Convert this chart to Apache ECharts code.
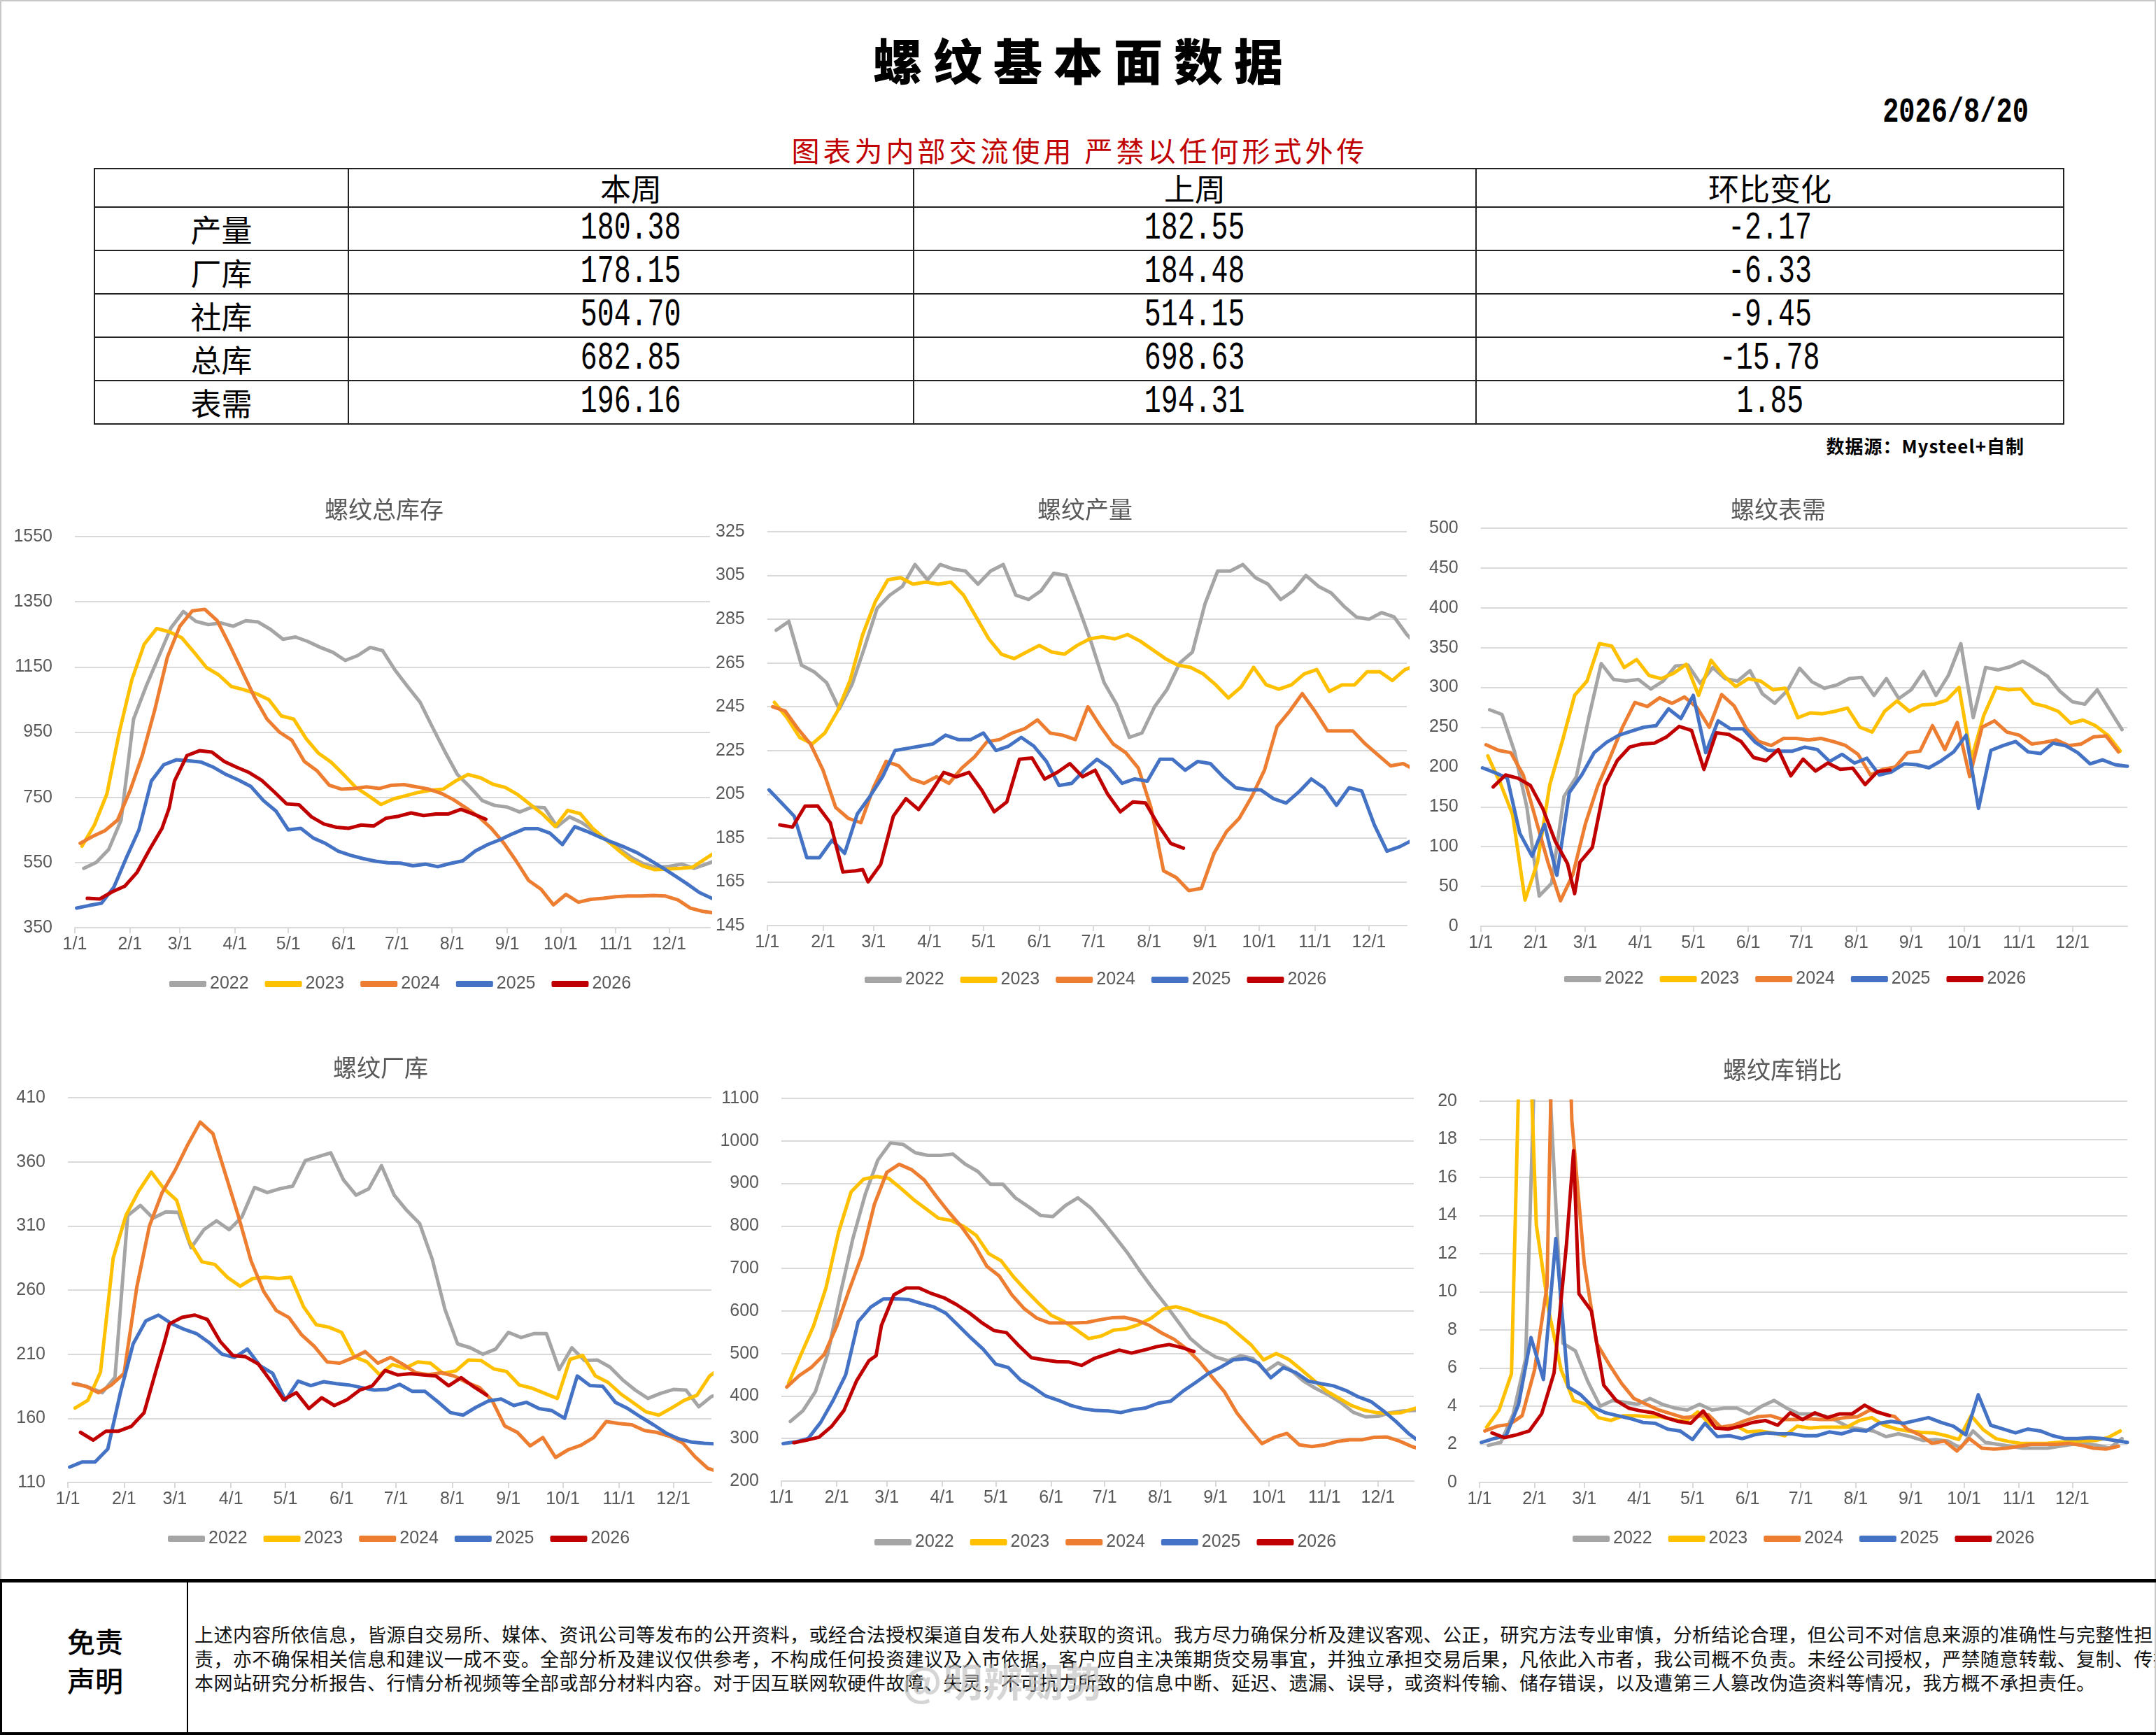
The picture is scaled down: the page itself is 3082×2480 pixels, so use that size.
<!DOCTYPE html>
<html>
<head>
<meta charset="utf-8">
<script src="https://cdn.jsdelivr.net/npm/echarts@6/dist/echarts.min.js"></script>
<style>
    body { margin: 0; background: #fff; }
    #page { position: relative; width: 3082px; height: 2480px; overflow: hidden; background: #fff;
            font-family: "Noto Sans CJK SC", sans-serif; }
    .frame { position: absolute; left: 0; top: 0; width: 3082px; height: 2480px;
             border: 2px solid #c8c8c8; box-sizing: border-box; }
    .title { position: absolute; left: 0; top: 38px; width: 3082px; text-align: center;
             font-size: 70px; font-weight: 900; line-height: 94px; letter-spacing: 16px; padding-left: 16px; box-sizing: border-box; }
    .date { position: absolute; right: 182px; top: 136px; font-family: "Liberation Mono", monospace;
            font-size: 42px; line-height: 50px; color: #000; font-weight: 700;
            transform: scale(0.92, 1.2); transform-origin: right center; }
    .warn { position: absolute; left: 0; top: 189px; width: 3082px; text-align: center;
            font-size: 40px; line-height: 50px; color: #C00000; letter-spacing: 5px; padding-left: 5px; box-sizing: border-box; }
    table.tb { position: absolute; left: 134px; top: 240px; width: 2815px; border-collapse: collapse;
               table-layout: fixed; }
    table.tb td { border: 2px solid #222; text-align: center; padding: 0; color: #000; }
    table.tb td.cn { font-size: 44px; }
    table.tb td.num { font-family: "Liberation Mono", monospace; font-size: 42px; }
    table.tb td.num span { display: inline-block; transform: scale(0.95, 1.3); }
    table.tb tr.hd td { height: 53px; line-height: 53px; }
    table.tb tr.rw td { height: 60px; line-height: 60px; }
    table.tb td + td { border-left: 1px solid #888; }
    .src { position: absolute; right: 188px; top: 620px; font-size: 26px; font-weight: 700;
           line-height: 34px; letter-spacing: 1px; }
    .chart { position: absolute; }
    .disc { position: absolute; left: 0; top: 2257px; width: 3082px; height: 223px;
            border-top: 5px solid #000; border-bottom: 4px solid #000; border-left: 3px solid #000;
            box-sizing: border-box; }
    .disc .lab { position: absolute; left: 0; top: 0; width: 266px; height: 100%;
                 border-right: 2px solid #000; box-sizing: border-box; }
    .disc .lab div { position: absolute; left: 0; width: 266px; text-align: center; font-size: 40px;
                     font-weight: 500; line-height: 50px; }
    .disc .txt { position: absolute; left: 275px; top: 57px; width: 2802px; overflow: hidden;
                 white-space: nowrap; font-size: 27px; line-height: 34.5px; letter-spacing: 0.45px; color: #111; }
    .wm { position: absolute; left: 1290px; top: 2360px; font-size: 56px; color: rgba(185,185,185,0.6);
          font-weight: 700; letter-spacing: 2px; }
</style>
</head>
<body>
<div id="page">
    <div class="frame"></div>
    <div class="title">螺纹基本面数据</div>
    <div class="date">2026/8/20</div>
    <div class="warn">图表为内部交流使用 严禁以任何形式外传</div>
    <table class="tb" id="tb"></table>
    <div class="src">数据源：Mysteel+自制</div>

    <div id="c1" class="chart" style="left:0;top:690px;width:1020px;height:740px;"></div>
    <div id="c2" class="chart" style="left:1020px;top:690px;width:1020px;height:740px;"></div>
    <div id="c3" class="chart" style="left:2040px;top:690px;width:1042px;height:740px;"></div>
    <div id="c4" class="chart" style="left:0;top:1490px;width:1020px;height:740px;"></div>
    <div id="c5" class="chart" style="left:1020px;top:1490px;width:1020px;height:740px;"></div>
    <div id="c6" class="chart" style="left:2040px;top:1490px;width:1042px;height:740px;"></div>

    <div class="disc">
        <div class="lab"><div style="top:58px;">免责</div><div style="top:114px;">声明</div></div>
        <div class="txt">上述内容所依信息，皆源自交易所、媒体、资讯公司等发布的公开资料，或经合法授权渠道自发布人处获取的资讯。我方尽力确保分析及建议客观、公正，研究方法专业审慎，分析结论合理，但公司不对信息来源的准确性与完整性担<br>责，亦不确保相关信息和建议一成不变。全部分析及建议仅供参考，不构成任何投资建议及入市依据，客户应自主决策期货交易事宜，并独立承担交易后果，凡依此入市者，我公司概不负责。未经公司授权，严禁随意转载、复制、传播<br>本网站研究分析报告、行情分析视频等全部或部分材料内容。对于因互联网软硬件故障、失灵，不可抗力所致的信息中断、延迟、遗漏、误导，或资料传输、储存错误，以及遭第三人篡改伪造资料等情况，我方概不承担责任。</div>
    </div>
    <div class="wm">@明辨期势</div>
</div>

<script type="text/javascript">
    // 表格数据
    var rowNames = ['产量', '厂库', '社库', '总库', '表需'];
    var thisWeek = ['180.38', '178.15', '504.70', '682.85', '196.16'];
    var lastWeek = ['182.55', '184.48', '514.15', '698.63', '194.31'];
    var weekChange = ['-2.17', '-6.33', '-9.45', '-15.78', '1.85'];

    // 年份 / 颜色
    var years = ['2022', '2023', '2024', '2025', '2026'];
    var colors = ['#A5A5A5', '#FFC000', '#ED7D31', '#4472C4', '#C00000'];
    // 2022-2025 每年第一期数据的日序（周度）
    var firstDay = [5, 4, 3, 1];
    // 2026 实际数据日期（日序），春节后多一期
    var days2026 = [7, 14, 21, 28, 35, 42, 49, 53, 56, 63, 70, 77, 84, 91, 98, 105, 112, 119, 126, 133,
                    140, 147, 154, 161, 168, 175, 182, 189, 196, 203, 210, 217, 224, 231];
    var monthStarts = [0, 31, 59, 90, 120, 151, 181, 212, 243, 273, 304, 334];
    var monthLabels = ['1/1', '2/1', '3/1', '4/1', '5/1', '6/1', '7/1', '8/1', '9/1', '10/1', '11/1', '12/1'];

    // 螺纹总库存
    var stock2022 = [532,550,590,680,990,1090,1180,1270,1320,1290,1280,1285,1275,1292,1288,1265,1235,1242,1228,1210,1195,1170,1185,1210,1200,1140,1090,1042,965,890,820,782,740,725,720,705,720,718,660,690,672,645,620,592,565,545,535,538,545,532,545,560];
    var stock2023 = [600,665,760,950,1110,1220,1268,1258,1240,1195,1148,1125,1090,1080,1068,1050,1000,990,930,885,858,820,780,755,728,745,755,765,772,775,800,820,810,790,780,758,728,698,660,710,700,655,622,590,560,540,528,530,532,535,560,585];
    var stock2024 = [609,630,648,680,770,880,1020,1180,1275,1322,1327,1292,1217,1137,1057,990,950,925,860,832,787,775,777,782,777,787,789,782,775,762,742,717,690,655,610,555,495,468,420,452,428,437,440,445,447,447,449,447,435,410,400,395];
    var stock2025 = [410,418,425,475,565,650,800,850,865,862,858,842,820,803,783,740,708,650,655,625,608,585,572,562,554,549,548,540,545,537,547,555,585,605,620,638,654,654,640,605,660,645,628,612,597,580,558,535,510,485,458,440];
    var stock2026 = [440,438,460,477,520,590,655,717,800,878,893,889,860,842,826,802,767,730,727,690,668,658,655,665,662,686,692,702,694,699,699,713,698.63,682.85];

    // 螺纹产量
    var prod2022 = [280,284,264,261,256,244,255,272,290,296,300,310,303,310,308,307,301,307,310,296,294,298,306,305,290,274,256,246,231,233,245,253,265,270,292,307,307,310,304,301,294,298,305,300,297,291,286,285,288,286,278,272];
    var prod2023 = [247,240,231,228,233,243,257,278,293,303,304,301,302,301,302,296,286,276,269,267,270,273,270,269,273,276,277,276,278,275,271,267,264,263,260,255,249,254,263,255,253,255,260,262,252,255,255,261,261,257,262,264];
    var prod2024 = [245,243,235,228,216,199,194,192,208,220,218,212,210,213,210,217,222,229,230,233,235,239,233,232,230,245,236,228,224,217,199,170,167,161,162,178,188,194,204,216,236,243,251,243,234,234,234,228,223,218,219,216];
    var prod2025 = [207,201,195,176,176,184,178,196,204,213,225,226,227,228,232,230,230,233,225,227,231,227,220,209,210,216,221,217,210,212,211,221,221,216,220,219,213,208,207,207,203,201,206,212,208,200,208,206.5,191,179,181,184];
    var prod2026 = [191,190,199.6,199.7,192,169.5,170,170.6,165,173,195,203,198,206,215,213,215,207,197,201.5,221,221.6,212,215,219,213,216,205,197,201.5,201,191,182.55,180.38];

    // 螺纹表需
    var dem2022 = [272,266,220,150,38,54,163,188,262,330,310,308,310,298,308,327,328,305,325,311,308,321,292,280,296,324,307,299,303,311,312.6,290,311,286,297,320,290,315,355,262,325,322,326,333,324,314,295,282,279,297,272,247];
    var dem2023 = [214,180,140,33,80,178,232,290,308,355,352,325,335,315,311,318,329,290,334,315,301,311,308,297,299,262,268,267,270,274,250,244,270,283,270,278,279,284,300,210,265,300,297,298,280,276,270,255,259,252,240,220];
    var dem2024 = [228,221,218,190,135,80,32,65,128,176,212,250,281,276,287,280,288,275,250,291,277,248,232,227,236,236,234,236,232,227,216,190,197,200,218,220,252,222,256,188,250,258,244,240,229,231,234,227,229,238,239,219];
    var dem2025 = [199,193,186,117,88,128,64,168,190,218,231,240,245,250,252,273,261,290,218,258,248,248,231,221,220,220,225,222,207,216,205,211,190,194,204,203,199,208,219,240,148,221,227,232,219,217,230,227,218,204,209,203,201];
    var dem2026 = [175,190,186,177,148,107,78.6,41,80.6,99,177,208,225,229,230,238,251,246,197,243,241,232,212,208,222,189,210,195,205,197,198.5,178,194.31,196.16];

    // 螺纹厂库
    var fac2022 = [187,184,180,192,318,326,316,321,320.5,293,307,314,307,317,340,336,339,341,361,364,367,346,334,339,357,334,322,312,284,245,218,215,210,214,227,223,226,226,198,215,205,205.5,200,190,182,175.5,179.5,182.5,182,169,177,180];
    var fac2023 = [168,174,196,285,318,337,352,339,330,298,282,280,270,263,269,270,269,270,247,233,231,227,208,204,194,202,199,204,203,195,197,205.5,205,198.5,196.5,186,183.5,179.5,175.5,206,209,193,188,179,172,165,162.5,168,174,178,193,200];
    var fac2024 = [187,185,180,186,195,262,310,336,353,373,391,382,350,318,283,259,244,238.5,225,216,204,203,207,212,203,207.5,202,195.5,194,195.5,193,188,184,174,154,149,138.5,145,129.5,135.5,139,145,157.5,156,155,150.5,149,146,141,130,121,118];
    var fac2025 = [122,126,126,136,180,218,236,240.5,234,229.5,226,219,210,207.5,214,201,195,174,189,185.5,188.5,187,186,184,182,182.5,186.5,181,181,173,164.5,162.5,168.5,173.5,175,170,172.5,167.5,166,160,193,185.5,185,172.5,167.5,161,155,148.5,144,141.5,140.5,140];
    var fac2026 = [149,143,150,150,153.7,164.3,199,218,233.6,238.7,240.5,237,220,209,208,202.4,189,174.5,180,167.6,176,170,174.5,182,185.4,197.3,193.8,194.8,193.8,193,185.4,191.7,184.48,178.15];

    // 螺纹社库
    var soc2022 = [340,365,410,500,640,770,875,955,995,992,972,966,966,969,945,928,898,898,866,846,825,822,848,866,843,810,773,735,692,652,615,575,535,510,492,483,495,488,458,478,462,436,418,403,385,362,351,352,361,365,366,368];
    var soc2023 = [430,498,565,655,785,880,910,916,912,888,862,840,818,813,799,778,735,718,680,648,618,590,576,556,535,541,555,558,568,583,605,610,602,590,581,570,545,520,485,500,486,462,437,412,395,378,367,361,359,361,370,378];
    var soc2024 = [421,448,468,498,565,650,730,850,926,945,932,908,868,831,797,756,705,682,638,605,583,572,572,572,573,579,584,585,578,566,548,533,510,481,445,410,360,323,288,303,312,285,281,285,293,297,297,303,303.5,294,281,272];
    var soc2025 = [288,292,300,338,390,450,575,609,628,628.5,627,618,610,595,566,537,510,475,467,437,420,400,390,378,370,366,365,361,368,372,383,388,412,432,453,468,485,488,478,443,467,455,435,429,424,413,398,387,365,340,312,290];
    var soc2026 = [290,296,303,328,366,435,483,495,566,638,654,654,641,631,615,596,573,554,549,518,490,485,481,480,472,488,498,508,501,508,516,521,514.15,504.7];

    // 螺纹库销比
    var ratio2022 = [1.95,2.1,3.6,6.5,28,20,7.3,6.9,5.3,4.0,4.3,4.2,4.1,4.4,4.1,3.9,3.8,4.1,3.8,3.9,3.9,3.6,4.0,4.3,3.9,3.6,3.6,3.5,3.25,2.9,2.8,2.7,2.4,2.55,2.4,2.2,2.25,2.17,1.8,2.7,2.1,2.0,1.9,1.8,1.8,1.8,1.9,2.0,2.05,1.95,1.8,2.3];
    var ratio2023 = [2.9,3.8,5.7,32,13.5,9,5.9,4.3,4.1,3.4,3.25,3.5,3.5,3.45,3.45,3.3,3.2,3.7,3.05,2.85,3.0,2.65,2.7,2.6,2.45,2.95,2.85,2.9,2.9,2.9,3.25,3.4,3.0,2.8,2.7,2.62,2.6,2.45,2.25,3.5,2.75,2.3,2.15,2.05,2.05,2.05,2.1,2.15,2.17,2.2,2.35,2.7];
    var ratio2024 = [2.7,2.95,3.05,3.5,5.9,10.3,42,19,11.5,7.3,6.2,5.2,4.4,4.1,3.8,3.6,3.4,3.45,3.55,2.9,3.0,3.25,3.45,3.5,3.3,3.3,3.35,3.3,3.3,3.4,3.45,3.8,3.6,3.45,2.8,2.5,2.05,2.17,1.65,2.3,1.8,1.75,1.8,1.9,2.0,2.0,2.0,2.05,1.95,1.8,1.75,1.9];
    var ratio2025 = [2.1,2.3,2.45,4.1,7.6,5.4,12.8,5.0,4.6,3.95,3.65,3.5,3.35,3.15,3.1,2.8,2.7,2.25,3.1,2.4,2.45,2.3,2.5,2.6,2.55,2.55,2.45,2.45,2.65,2.55,2.75,2.7,3.1,3.2,3.1,3.25,3.4,3.15,2.95,2.5,4.6,3.0,2.8,2.6,2.8,2.7,2.45,2.3,2.3,2.35,2.3,2.2,2.1];
    var ratio2026 = [2.6,2.35,2.5,2.7,3.6,5.75,12.5,17.4,9.9,9.0,5.1,4.3,3.9,3.75,3.65,3.4,3.2,3.1,3.75,2.85,2.8,2.95,3.15,3.25,3.0,3.65,3.3,3.65,3.4,3.6,3.6,4.05,3.7,3.5];

    var NARROW = '"Liberation Sans Narrow", "Liberation Sans", sans-serif';
    var CJK = '"Noto Sans CJK SC", sans-serif';

    // 填表
    (function () {
        var h = '<colgroup><col style="width:363px"><col style="width:808px"><col style="width:804px"><col style="width:840px"></colgroup>';
        h += '<tr class="hd"><td></td><td class="cn">本周</td><td class="cn">上周</td><td class="cn">环比变化</td></tr>';
        for (var i = 0; i < rowNames.length; i++) {
            h += '<tr class="rw"><td class="cn">' + rowNames[i] + '</td><td class="num"><span>' + thisWeek[i] +
                 '</span></td><td class="num"><span>' + lastWeek[i] + '</span></td><td class="num"><span>' + weekChange[i] + '</span></td></tr>';
        }
        document.getElementById('tb').innerHTML = h;
    })();

    function dayList(k, n) {
        if (k === 4) return days2026;
        var d = [];
        for (var i = 0; i < n; i++) d.push(firstDay[k] + 7 * i);
        return d;
    }

    function drawChart(id, cfg, lists) {
        var chart = echarts.init(document.getElementById(id));
        var series = lists.map(function (vals, k) {
            var days = dayList(k, vals.length);
            return {
                name: years[k],
                type: 'line',
                symbol: 'none',
                clip: true,
                z: 2 + k,
                color: colors[k],
                lineStyle: { width: 5, color: colors[k], cap: 'round', join: 'round' },
                data: vals.map(function (v, i) { return [days[i], v]; })
            };
        });
        var option = {
            animation: false,
            title: {
                text: cfg.title || '',
                left: cfg.titleX,
                top: cfg.titleTop,
                textAlign: 'center',
                textStyle: { fontSize: 34, fontWeight: 'normal', color: '#595959', fontFamily: CJK }
            },
            legend: {
                data: years,
                icon: 'roundRect',
                left: cfg.legendLeft,
                top: cfg.legendTop,
                itemWidth: 53,
                itemHeight: 9,
                itemGap: 23,
                textStyle: { fontSize: 25, color: '#595959', fontFamily: NARROW }
            },
            grid: cfg.grid,
            xAxis: {
                type: 'value',
                min: 0,
                max: cfg.xMax,
                splitLine: { show: false },
                axisLine: { show: true, lineStyle: { color: '#d9d9d9', width: 2 } },
                axisTick: { show: true, customValues: monthStarts, length: 8,
                            lineStyle: { color: '#d9d9d9', width: 2 } },
                axisLabel: {
                    customValues: monthStarts,
                    formatter: function (v) { return monthLabels[monthStarts.indexOf(Math.round(v))]; },
                    fontSize: 25, color: '#595959', fontFamily: NARROW, margin: 12
                }
            },
            yAxis: {
                type: 'value',
                min: cfg.min,
                max: cfg.max,
                interval: cfg.interval,
                axisLine: { show: false },
                axisTick: { show: false },
                splitLine: { lineStyle: { color: '#d9d9d9', width: 2 } },
                axisLabel: {
                    formatter: function (v) { return String(v); },
                    fontSize: 25, color: '#595959', fontFamily: NARROW, margin: 32
                }
            },
            series: series
        };
        chart.setOption(option);
        return chart;
    }

    drawChart('c1', {
        title: '螺纹总库存', titleX: 544, titleTop: 16,
        legendLeft: 237, legendTop: 699,
        grid: { left: 107, right: 5, top: 77, bottom: 104 },
        xMax: 357, min: 350, max: 1550, interval: 200
    }, [stock2022, stock2023, stock2024, stock2025, stock2026]);

    drawChart('c2', {
        title: '螺纹产量', titleX: 526, titleTop: 16,
        legendLeft: 211, legendTop: 693,
        grid: { left: 74, right: 29, top: 70, bottom: 107 },
        xMax: 355, min: 145, max: 325, interval: 20
    }, [prod2022, prod2023, prod2024, prod2025, prod2026]);

    drawChart('c3', {
        title: '螺纹表需', titleX: 497, titleTop: 16,
        legendLeft: 191, legendTop: 692,
        grid: { left: 69, right: 41, top: 65, bottom: 106 },
        xMax: 365, min: 0, max: 500, interval: 50
    }, [dem2022, dem2023, dem2024, dem2025, dem2026]);

    drawChart('c4', {
        title: '螺纹厂库', titleX: 539, titleTop: 14,
        legendLeft: 235, legendTop: 692,
        grid: { left: 97, right: 3, top: 79, bottom: 111 },
        xMax: 355, min: 110, max: 410, interval: 50
    }, [fac2022, fac2023, fac2024, fac2025, fac2026]);

    drawChart('c5', {
        title: '', titleX: 539, titleTop: 14,
        legendLeft: 225, legendTop: 697,
        grid: { left: 97, right: 19, top: 80, bottom: 113 },
        xMax: 354, min: 200, max: 1100, interval: 100
    }, [soc2022, soc2023, soc2024, soc2025, soc2026]);

    drawChart('c6', {
        title: '螺纹库销比', titleX: 503, titleTop: 17,
        legendLeft: 203, legendTop: 692,
        grid: { left: 75, right: 41, top: 84, bottom: 111 },
        xMax: 365, min: 0, max: 20, interval: 2
    }, [ratio2022, ratio2023, ratio2024, ratio2025, ratio2026]);
</script>
</body>
</html>
